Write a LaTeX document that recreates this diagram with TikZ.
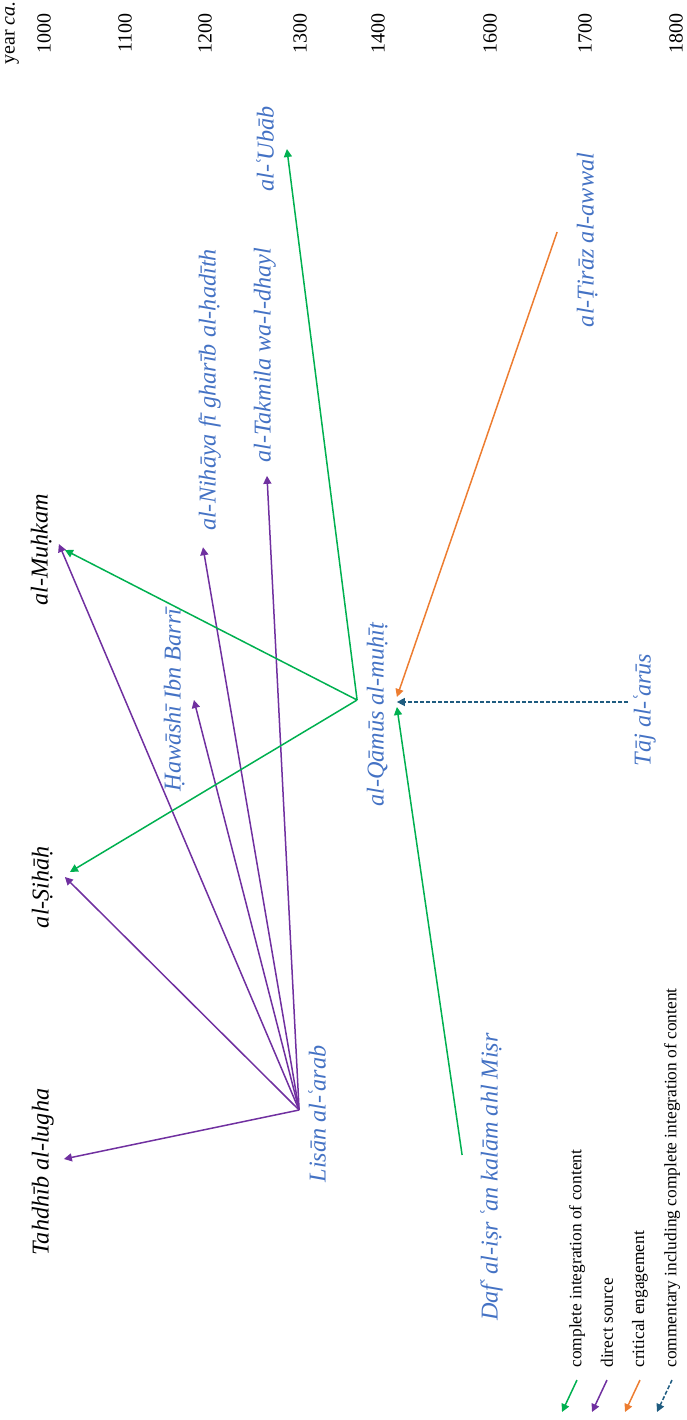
\documentclass[tikz,border=0pt]{standalone}
\usepackage{fontspec}
\setmainfont{Liberation Serif}
\usetikzlibrary{arrows.meta,calc}

\definecolor{titleBlue}{RGB}{68,114,196}
\definecolor{fullGreen}{RGB}{0,176,80}
\definecolor{directPurple}{RGB}{112,48,160}
\definecolor{criticalOrange}{RGB}{237,125,49}
\definecolor{commentTeal}{RGB}{31,92,128}

% tight ayn
\newcommand{\ayn}{\kern-.08em ʿ\kern-.08em}

\begin{document}
\begin{tikzpicture}[x=0.5pt,y=-0.5pt,
  work/.style={rotate=90, inner sep=4pt, text height=.7em, text depth=.25em,
    font=\fontsize{12.1}{14}\selectfont\itshape},
  blue work/.style={work, text=titleBlue},
  yearlabel/.style={rotate=90, inner sep=0pt, font=\fontsize{10}{12}\selectfont},
  keytext/.style={rotate=90, anchor=west, inner sep=0pt, font=\fontsize{8.7}{10}\selectfont},
  link/.style={line width=.75pt, -{Triangle[length=4pt,width=4pt]}},
  complete/.style={link, draw=fullGreen},
  direct/.style={link, draw=directPurple},
  critical/.style={link, draw=criticalOrange},
  commentary/.style={link, draw=commentTeal, dash pattern=on 2pt off 1pt}]
  \useasboundingbox (0,0) rectangle (686,1420);

  % time axis along the top
  \node[yearlabel] (yearca) at (12,33) {year \textit{ca.}};
  \foreach \yr/\xpos in {1000/44,1100/125,1200/205,1300/300,1400/378,1600/490,1700/585,1800/676}
    \node[yearlabel] (y\yr) at (\xpos,33) {\yr};

  % works
  \node[work] (tahdhib) at (44,1172) {Tahdhīb al-lugha};
  \node[work] (sihah)   at (44,887)  {al-Ṣiḥāḥ};
  \node[work] (muhkam)  at (43,550)  {al-Muḥkam};

  \node[blue work] (barri)   at (176,700)  {Ḥawāshī Ibn Barrī};
  \node[blue work] (nihaya)  at (211,390)  {al-Nihāya fī gharīb al-ḥadīth};
  \node[blue work] (takmila) at (266,355)  {al-Takmila wa-l-dhayl};
  \node[blue work] (ubab)    at (269,149)  {al-\ayn Ubāb};
  \node[blue work] (lisan)   at (321,1114) {Lisān al-\ayn arab};
  \node[blue work] (qamus)   at (379,715)  {al-Qāmūs al-muḥīṭ};
  \node[blue work] (isr)     at (493,1177) {Daf\ayn{} al-iṣr \ayn an kalām ahl Miṣr};
  \node[blue work] (tiraz)   at (589,240)  {al-Ṭirāz al-awwal};
  \node[blue work] (taj)     at (646,710)  {Tāj al-\ayn arūs};

  \coordinate (lisanHub) at ($(lisan.north)+(-4,-4)$);
  \coordinate (qamusHub) at ($(qamus.north)+(-4,-15)$);

  % direct sources of the Lisan
  \draw[direct] (lisanHub) -- ($(tahdhib.south)+(2,-13)$);
  \draw[direct] (lisanHub) -- ($(sihah.south)+(3,-10)$);
  \draw[direct] (lisanHub) -- ($(muhkam.south)+(-2,-6)$);
  \draw[direct] (lisanHub) -- (barri.south);
  \draw[direct] (lisanHub) -- ($(nihaya.west)+(-8,8)$);
  \draw[direct] (lisanHub) -- ($(takmila.west)+(1,5)$);

  % Qamus
  \draw[complete] (qamusHub) -- ($(sihah.south)+(8,-15)$);
  \draw[complete] (qamusHub) -- ($(muhkam.south)+(4,0)$);
  \draw[complete] (qamusHub) -- (ubab.south);
  \draw[complete] ($(isr.north)+(-13,-22)$) -- ($(qamus.south)+(0,-8)$);
  \draw[critical] ($(tiraz.north)+(-14,-8)$) -- ($(qamus.south)+(0,-18)$);
  \draw[commentary] ($(taj.north)+(0,-8)$) -- ($(qamus.south)+(0,-13)$);

  % legend
  \node[keytext] (keyComplete) at (577,1368) {complete integration of content};
  \node[keytext] (keyDirect)   at (607,1368) {direct source};
  \node[keytext] (keyCritical) at (640,1368) {critical engagement};
  \node[keytext] (keyComment)  at (672,1368) {commentary including complete integration of content};
  \draw[complete]   ($(keyComplete.west)+(0,12)$) -- +(-15,32);
  \draw[direct]     ($(keyDirect.west)+(0,12)$)   -- +(-15,32);
  \draw[critical]   ($(keyCritical.west)+(0,12)$) -- +(-15,32);
  \draw[commentary] ($(keyComment.west)+(0,12)$)  -- +(-15,32);
\end{tikzpicture}
\end{document}
